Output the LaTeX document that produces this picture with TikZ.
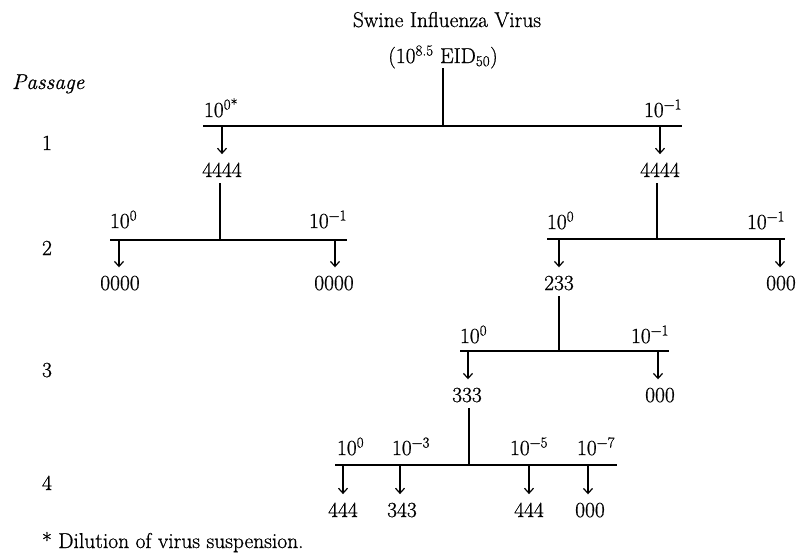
\documentclass[tikz,border=0pt]{standalone}
\usepackage{fontspec}
\usetikzlibrary{arrows.meta}
\newfontfamily\diagfont{Latin Modern Roman}[FakeBold=0.8]
\newcommand{\sps}[1]{\textsuperscript{#1}}
\newcommand{\sbs}[1]{\textsubscript{#1}}
\begin{document}
\begin{tikzpicture}[x=1pt,y=-1pt,
  every node/.style={inner sep=0pt,outer sep=0pt,font=\diagfont\fontsize{21.5}{25}\selectfont},
  txt/.style={anchor=base},
  lft/.style={anchor=base west},
  rgt/.style={anchor=base east},
  bar/.style={line width=1.3pt},
  stem/.style={line width=1.3pt,shorten <=6pt},
  drop/.style={line width=1.2pt,-{Straight Barb[length=5pt,width=9pt,line width=1.2pt]},shorten >=8.5pt}]
\useasboundingbox (0,0) rectangle (797,552);

% title
\node[txt] (title) at (447,27) {Swine Influenza Virus};
\node[txt] (dose) at (443,63) {(10\sps{8.5} EID\sbs{50})};
\node[lft] (passage) at (12,89) {\itshape Passage};
\node[txt] (p1) at (47,150) {1};
\node[txt] (p2) at (47,255) {2};
\node[txt] (p3) at (47,377) {3};
\node[txt] (p4) at (47,490) {4};
\node[lft] (foot) at (42,548) {* Dilution of virus suspension.};

% level 1
\coordinate (b1) at (443,126);
\coordinate (b1l) at (203,126);
\coordinate (b1r) at (682,126);
\draw[bar] (b1l) -- (b1r);
\draw[bar] (dose.south) -- (b1);
\node[lft] (d1a) at (204,117) {10\sps{0*}};
\node[rgt] (d1b) at (682,117) {10\sps{−1}};
\node[txt] (r1a) at (222,177) {4444};
\node[txt] (r1b) at (660,177) {4444};
\coordinate (a1a) at (222,127);
\coordinate (a1b) at (660,127);
\draw[drop] (a1a) -- (r1a.north);
\draw[drop] (a1b) -- (r1b.north);

% level 2 left
\coordinate (b2) at (220,240);
\draw[bar] (110,240) coordinate (b2l) -- (347,240) coordinate (b2r);
\draw[stem] (r1a.south -| b2) -- (b2);
\node[lft] (d2a) at (110,228) {10\sps{0}};
\node[rgt] (d2b) at (347,228) {10\sps{−1}};
\node[txt] (r2a) at (120,290) {0000};
\node[txt] (r2b) at (334,290) {0000};
\draw[drop] (119,241) -- (r2a.north -| 119,0);
\draw[drop] (335,241) -- (r2b.north -| 335,0);

% level 2 right
\coordinate (b3) at (657,239);
\draw[bar] (547,239) coordinate (b3l) -- (785,239) coordinate (b3r);
\draw[stem] (r1b.south -| b3) -- (b3);
\node[lft] (d3a) at (547,229) {10\sps{0}};
\node[rgt] (d3b) at (785,229) {10\sps{−1}};
\node[txt] (r3a) at (559,290) {233};
\node[txt] (r3b) at (781,290) {000};
\draw[drop] (559,240) -- (r3a.north);
\draw[drop] (780,240) -- (r3b.north -| 780,0);

% level 3
\coordinate (b4) at (559,351);
\draw[bar] (460,351) coordinate (b4l) -- (669,351) coordinate (b4r);
\draw[stem] (r3a.south) -- (b4);
\node[lft] (d4a) at (460,343) {10\sps{0}};
\node[rgt] (d4b) at (669,343) {10\sps{−1}};
\node[txt] (r4a) at (467,402) {333};
\node[txt] (r4b) at (660,402) {000};
\draw[drop] (468,352) -- (r4a.north -| 468,0);
\draw[drop] (658,352) -- (r4b.north -| 658,0);

% level 4
\coordinate (b5) at (469,465);
\draw[bar] (335,465) coordinate (b5l) -- (617,465) coordinate (b5r);
\draw[stem] (r4a.south -| b5) -- (b5);
\node[lft] (d5a) at (337,455) {10\sps{0}};
\node[lft] (d5b) at (392,455) {10\sps{−3}};
\node[lft] (d5c) at (510,455) {10\sps{−5}};
\node[lft] (d5d) at (577,455) {10\sps{−7}};
\node[txt] (r5a) at (343,517) {444};
\node[txt] (r5b) at (402,517) {343};
\node[txt] (r5c) at (529,517) {444};
\node[txt] (r5d) at (590,517) {000};
\draw[drop] (343,466) -- (r5a.north);
\draw[drop] (400,466) -- (r5b.north -| 400,0);
\draw[drop] (529,466) -- (r5c.north);
\draw[drop] (588,466) -- (r5d.north -| 588,0);
\end{tikzpicture}
\end{document}
